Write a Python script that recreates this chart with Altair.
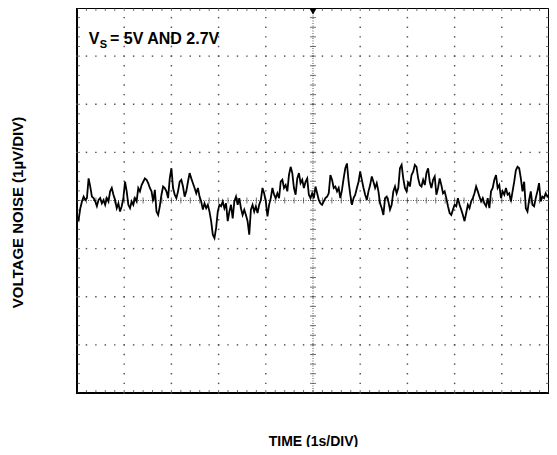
import altair as alt
import pandas as pd
import numpy as np

# Voltage noise trace (uV), evenly spaced over 10 s
noise_uv = [
    -0.33, -0.40, -0.16, -0.02, 0.08, 0.01, 0.05, 0.46, 0.29, 0.08,
    0.05, -0.02, -0.12, 0.01, 0.05, -0.06, 0.01, -0.09, 0.05, -0.02,
    0.19, 0.26, 0.12, 0.01, -0.16, -0.06, -0.23, -0.12, 0.05, 0.39,
    0.19, -0.09, -0.16, -0.02, -0.09, 0.05, -0.02, 0.26, 0.19, 0.32,
    0.39, 0.46, 0.43, 0.36, 0.26, 0.19, -0.02, 0.22, -0.23, -0.30,
    -0.12, 0.12, 0.29, 0.26, 0.19, 0.05, 0.46,
    0.67, 0.26, 0.12, 0.05, 0.19, 0.39, 0.43, 0.29, 0.08, 0.19,
    0.39, 0.57, 0.46, 0.36, 0.26, 0.15, 0.26, 0.08, -0.02, -0.19,
    -0.06, -0.16, -0.09, -0.23, -0.43, -0.71, -0.78, -0.57, -0.23, -0.09,
    -0.12, -0.02, -0.16, -0.06, -0.43, -0.23, -0.09, -0.37, -0.02, 0.08,
    -0.09, 0.05, -0.16, -0.30, -0.19, -0.30, -0.43, -0.71, -0.19, -0.09,
    -0.23, -0.12, -0.26, -0.09, 0.01, 0.26, 0.15,
    -0.02, -0.33, -0.09, 0.05, 0.26, 0.12, 0.05, 0.15, 0.05, 0.39,
    0.43, 0.26, 0.32, 0.19, 0.53, 0.70, 0.57, 0.26, 0.12, 0.46,
    0.57, 0.36, 0.43, 0.26, 0.39, 0.46, 0.12, 0.05, 0.15, 0.05,
    0.29, 0.15, 0.01, -0.06, -0.09, -0.02, 0.05, 0.08, 0.15, 0.53,
    0.43, 0.26, 0.29, 0.19, 0.26, 0.05, 0.22, 0.46, 0.67, 0.77,
    0.39, 0.12, -0.09, 0.05, 0.12, 0.26, 0.39,
    0.60, 0.43, 0.26, 0.12, 0.01, 0.19, 0.32, 0.50, 0.39, 0.26,
    0.36, 0.19, -0.06, -0.16, -0.30, 0.05, 0.08, -0.02, -0.19, -0.09,
    0.19, 0.29, 0.15, 0.26, 0.67, 0.74, 0.46, 0.26, 0.19, 0.39,
    0.29, 0.53, 0.60, 0.74, 0.70, 0.46, 0.32, 0.29, 0.43, 0.32,
    0.57, 0.67, 0.39, 0.26, 0.43, 0.50, 0.12, 0.26, 0.46, 0.32,
    0.15, 0.19, 0.05, -0.12, -0.26, -0.30, -0.19,
    -0.09, -0.12, 0.05, -0.09, -0.19, -0.30, -0.43, -0.26, -0.09, -0.16,
    -0.02, 0.05, 0.15, 0.29, 0.19, 0.08, -0.02, 0.05, -0.06, -0.12,
    0.05, -0.16, 0.19, 0.26, 0.43, 0.53, 0.26, 0.32, 0.05, 0.19,
    0.12, 0.26, 0.12, 0.15, -0.02, 0.19, 0.39, 0.63, 0.70, 0.67,
    0.46, 0.19, 0.39, -0.16, -0.23, 0.01, 0.19, -0.09, -0.12, 0.05,
    0.19, 0.36, -0.02, 0.08, 0.05, 0.15, 0.08, 0.12,
]
time_s = np.linspace(0, 10, len(noise_uv))

# Graticule of the scope screen (divisions)
x_divs = [1, 2, 3, 4, 6, 7, 8, 9]
y_divs = [-3, -2, -1, 1, 2, 3]
x_minor = [round(k * 0.2, 1) for k in range(51)]
y_minor = [round(-4 + k * 0.2, 1) for k in range(41)]

FONT = "Liberation Sans"

dots = [{"x": xv, "y": yv} for xv in x_divs for yv in y_minor] + \
       [{"x": xv, "y": yv} for yv in y_divs for xv in x_minor]
vticks = [{"x": xv, "y": yv} for yv in [0, -4, 4] for xv in x_minor]
hticks = [{"x": xv, "y": yv} for xv in [5, 0, 10] for yv in y_minor]
trace = pd.DataFrame({"x": time_s, "y": noise_uv})

xs = alt.Scale(domain=[0, 10], nice=False, zero=False)
ys = alt.Scale(domain=[-4, 4], nice=False, zero=False)
X = alt.X("x:Q", scale=xs, axis=alt.Axis(
    title="TIME (1s/DIV)", labels=False, ticks=False, domain=False, grid=False,
    titleFont=FONT, titleFontSize=14, titleFontWeight="bold", titleColor="black",
    titleX=236, titleY=48, titleBaseline="middle", titleAlign="center"))
Y = alt.Y("y:Q", scale=ys, axis=alt.Axis(
    title="VOLTAGE NOISE (1µV/DIV)", labels=False, ticks=False, domain=False, grid=False,
    titleFont=FONT, titleFontSize=15, titleFontWeight="bold", titleColor="black",
    titleX=-60, titleY=204, titleBaseline="middle", titleAlign="center", titleAngle=270))

dot_layer = alt.Chart(pd.DataFrame(dots)).mark_square(size=2.2, color="#555", opacity=1).encode(x=X, y=Y)

center_v = alt.Chart(pd.DataFrame({"x": [5]})).mark_rule(
    color="#555", strokeDash=[1, 1.5], strokeWidth=1).encode(x=X)
center_h = alt.Chart(pd.DataFrame({"y": [0]})).mark_rule(
    color="#555", strokeDash=[1, 1.5], strokeWidth=1).encode(y=Y)

vt = alt.Chart(pd.DataFrame(vticks)).mark_tick(
    orient="vertical", size=6, thickness=1, color="#333", clip=True).encode(x=X, y=Y)
ht = alt.Chart(pd.DataFrame(hticks)).mark_tick(
    orient="horizontal", size=6, thickness=1, color="#333", clip=True).encode(x=X, y=Y)

line = alt.Chart(trace).mark_line(color="black", strokeWidth=1.8).encode(x=X, y=Y)

marker = alt.Chart(pd.DataFrame({"x": [5], "y": [4]})).mark_point(
    shape="triangle-down", filled=True, color="black", size=70, opacity=1, yOffset=3).encode(x=X, y=Y)

txt_v = alt.Chart(pd.DataFrame({"x": [0.25], "y": [3.25], "t": ["V"]})).mark_text(
    font=FONT, fontSize=16, fontWeight="bold", align="left", baseline="alphabetic", color="black"
).encode(x=X, y=Y, text="t:N")
txt_s = alt.Chart(pd.DataFrame({"x": [0.48], "y": [3.17], "t": ["S"]})).mark_text(
    font=FONT, fontSize=11, fontWeight="bold", align="left", baseline="alphabetic", color="black"
).encode(x=X, y=Y, text="t:N")
txt_rest = alt.Chart(pd.DataFrame({"x": [0.70], "y": [3.25], "t": ["= 5V AND 2.7V"]})).mark_text(
    font=FONT, fontSize=16, fontWeight="bold", align="left", baseline="alphabetic", color="black"
).encode(x=X, y=Y, text="t:N")

chart = alt.layer(
    dot_layer, center_v, center_h, vt, ht, line, marker, txt_v, txt_s, txt_rest
).properties(
    width=472, height=385, autosize="none",
    padding={"left": 69, "top": 0, "right": 0, "bottom": 54},
    background="white",
).configure_view(stroke="black", strokeWidth=2)

chart.save("out.html", embed_options={"renderer": "svg", "actions": False})
